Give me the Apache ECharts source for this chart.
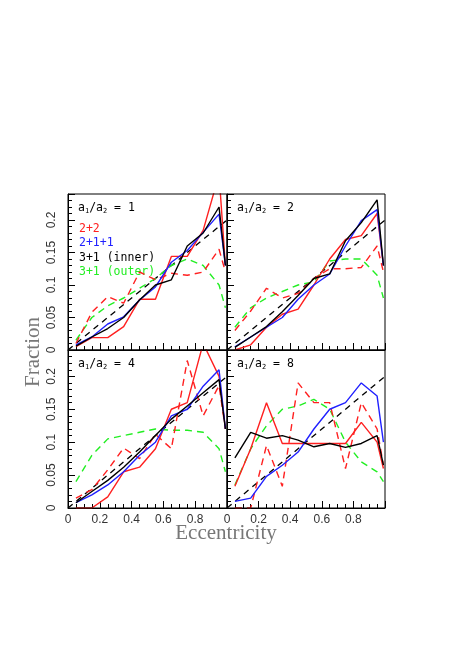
<!DOCTYPE html>
<html><head><meta charset="utf-8">
<script src="https://cdn.jsdelivr.net/npm/echarts@6/dist/echarts.min.js"></script>
<style>html,body{margin:0;padding:0;background:#fff}#c{width:463px;height:656px}</style>
</head><body><div id="c"></div>
<script>
const ecc = [0.05,0.15,0.25,0.35,0.45,0.55,0.65,0.75,0.85,0.95,0.99];
const thermalX = [0, 1];
const thermalY = [0, 0.2];
const ratios = ['1','2','4','8'];
// panel a1/a2 = 1
const p1_22 = [0.005,0.019,0.019,0.036,0.078,0.078,0.144,0.144,0.184,0.27,0.13];
const p1_22d = [0.01,0.058,0.082,0.072,0.12,0.108,0.118,0.115,0.12,0.155,0.12];
const p1_211 = [0.008,0.02,0.04,0.051,0.077,0.097,0.135,0.153,0.181,0.209,0.13];
const p1_in = [0.006,0.02,0.033,0.05,0.077,0.1,0.108,0.16,0.18,0.22,0.13];
const p1_out = [0.015,0.05,0.068,0.08,0.095,0.11,0.13,0.14,0.13,0.10,0.065];
// panel a1/a2 = 2
const p2_22 = [0.0,0.008,0.035,0.055,0.063,0.1,0.14,0.17,0.176,0.21,0.13];
const p2_22d = [0.03,0.06,0.095,0.08,0.087,0.11,0.125,0.125,0.127,0.16,0.12];
const p2_211 = [0.005,0.02,0.035,0.05,0.078,0.1,0.117,0.16,0.199,0.216,0.13];
const p2_in = [0.004,0.02,0.036,0.059,0.084,0.11,0.117,0.168,0.196,0.231,0.13];
const p2_out = [0.035,0.065,0.08,0.09,0.1,0.105,0.137,0.14,0.14,0.115,0.08];
// panel a1/a2 = 4
const p3_22 = [0.0,0.0,0.017,0.055,0.062,0.09,0.15,0.16,0.25,0.2,0.12];
const p3_22d = [0.015,0.028,0.058,0.091,0.075,0.112,0.09,0.224,0.14,0.186,0.12];
const p3_211 = [0.008,0.02,0.035,0.055,0.08,0.1,0.14,0.15,0.185,0.21,0.12];
const p3_in = [0.008,0.025,0.042,0.062,0.085,0.11,0.135,0.155,0.175,0.195,0.12];
const p3_out = [0.04,0.08,0.105,0.11,0.115,0.12,0.118,0.118,0.115,0.09,0.055];
// panel a1/a2 = 8
const p4_22 = [0.033,0.09,0.16,0.098,0.098,0.098,0.098,0.098,0.13,0.1,0.06];
const p4_22d = [0.0,0.0,0.095,0.033,0.19,0.16,0.16,0.06,0.16,0.12,0.065];
const p4_211 = [0.01,0.015,0.048,0.065,0.085,0.12,0.15,0.16,0.19,0.17,0.1];
const p4_in = [0.076,0.115,0.106,0.11,0.103,0.093,0.098,0.092,0.098,0.11,0.065];
const p4_out = [0.035,0.09,0.125,0.15,0.155,0.165,0.15,0.1,0.07,0.055,0.04];
const xTicks = ['0','0.2','0.4','0.6','0.8'];
const yTicks = ['0','0.05','0.1','0.15','0.2'];

const panels = [
  [p1_22,p1_22d,p1_211,p1_in,p1_out],
  [p2_22,p2_22d,p2_211,p2_in,p2_out],
  [p3_22,p3_22d,p3_211,p3_in,p3_out],
  [p4_22,p4_22d,p4_211,p4_in,p4_out]
];
const L=[68,227], W=[159,158], T=[194,350], H=[156,158];
const grids=[], xAxes=[], yAxes=[], series=[], graphics=[];
const pair = ys => ecc.map((x,i)=>[x, ys[i]]);
for (let k=0;k<4;k++){
  const c=k%2, r=Math.floor(k/2);
  grids.push({left:L[c], top:T[r], width:W[c], height:H[r]});
  xAxes.push({gridIndex:k, type:'value', min:0, max:1, interval:0.2,
    axisLine:{show:true,onZero:false,lineStyle:{color:'#000',width:1}},
    axisTick:{show:true,inside:true,length:7,lineStyle:{color:'#000'}},
    minorTick:{show:true,splitNumber:4,length:4,lineStyle:{color:'#000'}},
    splitLine:{show:false},
    axisLabel:{show:r===1, color:'#333', fontSize:12, fontFamily:'Liberation Sans', margin:6,
      formatter:v=>{const s=xTicks[Math.round(v*5)];return s===undefined?'':s;}}
  });
  yAxes.push({gridIndex:k, type:'value', min:0, max:0.24, interval:0.05,
    axisLine:{show:true,onZero:false,lineStyle:{color:'#000',width:1}},
    axisTick:{show:true,inside:true,length:7,lineStyle:{color:'#000'}},
    minorTick:{show:true,splitNumber:5,length:4,lineStyle:{color:'#000'}},
    splitLine:{show:false},
    axisLabel:{show:c===0, color:'#333', fontSize:12, fontFamily:'Liberation Sans', rotate:90, margin:10,
      formatter:v=>{const s=yTicks[Math.round(v*20)];return s===undefined?'':s;}}
  });
  const d=panels[k];
  const defs=[[d[4],'#22ee22','dashed'],[d[1],'#ff2020','dashed'],[d[0],'#ff2020','solid'],[d[2],'#2020ff','solid'],[d[3],'#000','solid']];
  series.push({type:'line', xAxisIndex:k, yAxisIndex:k, data:thermalX.map((x,i)=>[x,thermalY[i]]), symbol:'none', clip:true, silent:true,
    lineStyle:{color:'#000', width:1.3, type:[6,5]}});
  defs.forEach(([ys,col,ty])=>series.push({type:'line', xAxisIndex:k, yAxisIndex:k, data:pair(ys), symbol:'none', clip:true, silent:true,
    lineStyle:{color:col, width:1.4, type: ty==='dashed'?[7,5]:'solid'}}));
  graphics.push({type:'rect', shape:{x:L[c], y:T[r], width:W[c], height:H[r]}, style:{fill:'none', stroke:'#000', lineWidth:1}, z:100, silent:true});
  graphics.push({type:'text', left:L[c]+10, top:T[r]+8, style:{
    text:'{n|a}{s|1}{n|/a}{s|2}{n| = '+ratios[k]+'}', rich:{n:{fontSize:11.5,fontFamily:'DejaVu Sans Mono',fill:'#000'}, s:{fontSize:7,fontFamily:'DejaVu Sans Mono',fill:'#000',verticalAlign:'bottom',padding:[6,0,0,0]}}}});
}
const legend=[['2+2','#ff2020'],['2+1+1','#2020ff'],['3+1 (inner)','#000'],['3+1 (outer)','#22ee22']];
legend.forEach(([t,col],i)=>graphics.push({type:'text', left:79, top:223+i*14.5, style:{text:t, fill:col, fontSize:11.5, fontFamily:'DejaVu Sans Mono'}}));
graphics.push({type:'text', x:226, y:533, style:{text:'Eccentricity', fill:'#777', fontSize:21, fontFamily:'Liberation Serif', align:'center', verticalAlign:'middle'}});
graphics.push({type:'text', x:33, y:352, rotation:Math.PI/2, style:{text:'Fraction', fill:'#777', fontSize:21, fontFamily:'Liberation Serif', align:'center', verticalAlign:'middle'}});
const chart=echarts.init(document.getElementById('c'));
chart.setOption({animation:false, grid:grids, xAxis:xAxes, yAxis:yAxes, series, graphic:graphics});
</script></body></html>
